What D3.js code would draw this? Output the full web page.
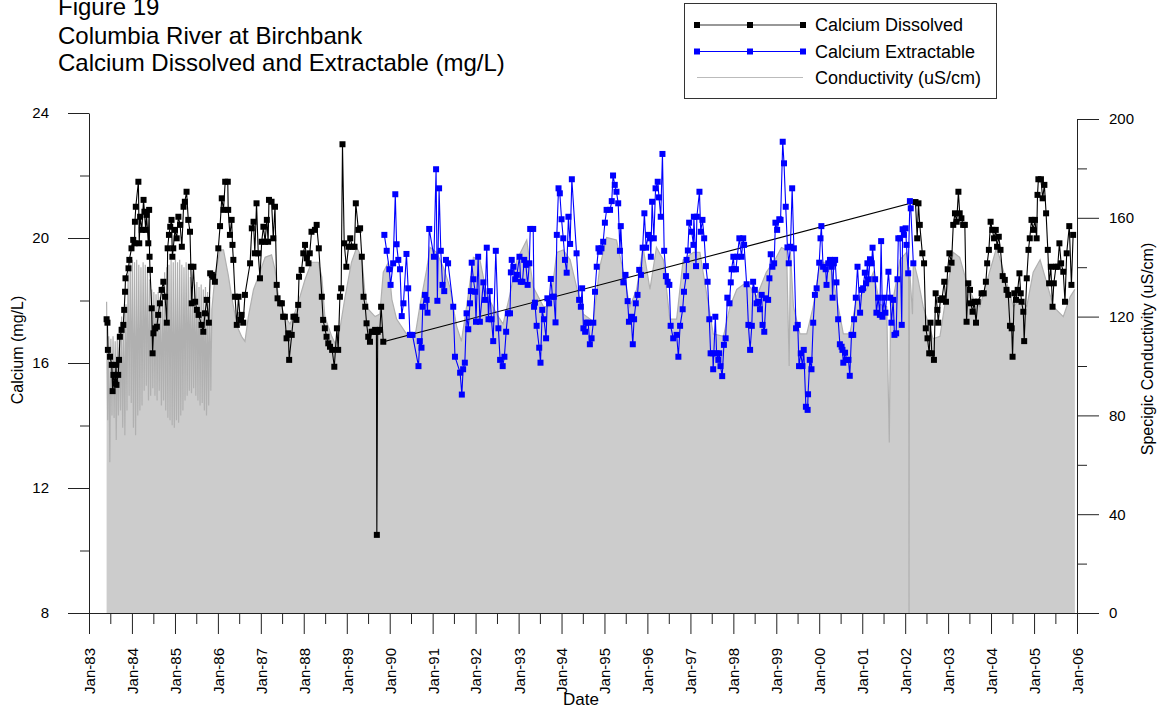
<!DOCTYPE html>
<html><head><meta charset="utf-8">
<script src="https://cdn.jsdelivr.net/npm/d3@7/dist/d3.min.js"></script>
<style>body{margin:0;background:#fff;} svg{display:block;font-family:Arial,"Liberation Sans",Helvetica,sans-serif;}</style>
</head><body><svg id="c" width="1159" height="710"></svg>
<script>
// ---------- DATA ----------
const titleLines = ["Figure 19", "Columbia River at Birchbank", "Calcium Dissolved and Extractable (mg/L)"];
const seriesNames = ["Calcium Dissolved", "Calcium Extractable", "Conductivity (uS/cm)"];
const leftTicks = [8, 12, 16, 20, 24];
const leftMinor = [10, 14, 18, 22];
const rightTicks = [0, 40, 80, 120, 160, 200];
const rightMinor = [20, 60, 100, 140, 180];

// Calcium Dissolved (mg/L): [decimal year, value]
const dissolved = [
[1983.41,17.40],[1983.43,17.29],[1983.44,16.42],[1983.49,16.20],[1983.53,15.94],[1983.55,15.10],[1983.57,15.62],[1983.61,15.35],[1983.63,15.94],[1983.64,15.30],[1983.68,15.62],[1983.70,16.10],[1983.72,16.84],[1983.76,17.06],[1983.80,17.22],[1983.82,17.70],[1983.84,18.28],[1983.85,18.71],[1983.92,19.03],[1983.94,19.30],[1983.99,19.67],[1984.03,19.94],[1984.06,19.83],[1984.07,20.52],[1984.09,21.00],[1984.15,21.80],[1984.17,19.83],[1984.19,20.68],[1984.23,20.26],[1984.27,21.22],[1984.29,20.84],[1984.32,20.26],[1984.34,20.74],[1984.38,19.83],[1984.40,20.90],[1984.41,19.40],[1984.42,18.98],[1984.46,17.75],[1984.48,16.31],[1984.50,16.95],[1984.54,17.11],[1984.58,17.16],[1984.61,17.54],[1984.65,17.91],[1984.69,18.34],[1984.73,18.60],[1984.77,18.12],[1984.81,17.29],[1984.83,19.67],[1984.86,20.10],[1984.89,20.36],[1984.92,20.58],[1984.94,19.40],[1984.96,19.67],[1985.00,20.26],[1985.04,19.99],[1985.08,20.68],[1985.12,20.42],[1985.16,19.72],[1985.20,21.00],[1985.23,21.16],[1985.27,21.48],[1985.31,20.58],[1985.35,20.20],[1985.37,19.08],[1985.39,17.91],[1985.43,19.08],[1985.47,17.96],[1985.51,17.70],[1985.55,17.54],[1985.62,17.22],[1985.66,17.00],[1985.70,17.59],[1985.74,18.02],[1985.79,17.29],[1985.82,18.87],[1985.86,18.82],[1985.89,18.76],[1985.93,18.60],[1986.01,19.67],[1986.05,20.38],[1986.09,21.27],[1986.13,20.90],[1986.17,21.80],[1986.23,21.80],[1986.24,20.90],[1986.28,20.10],[1986.32,20.58],[1986.34,19.78],[1986.36,19.30],[1986.40,18.12],[1986.44,17.22],[1986.48,18.12],[1986.52,17.38],[1986.55,17.54],[1986.59,17.29],[1986.63,18.18],[1986.75,19.19],[1986.79,20.31],[1986.83,20.52],[1986.86,19.51],[1986.90,21.11],[1986.94,19.51],[1986.98,18.71],[1987.02,19.88],[1987.06,20.36],[1987.10,19.88],[1987.14,20.58],[1987.17,19.88],[1987.19,21.22],[1987.25,21.16],[1987.29,19.99],[1987.33,21.00],[1987.37,18.50],[1987.39,18.07],[1987.45,17.91],[1987.49,17.91],[1987.52,17.48],[1987.56,17.48],[1987.60,16.79],[1987.64,16.95],[1987.66,16.10],[1987.72,16.90],[1987.76,17.48],[1987.80,17.48],[1987.83,17.38],[1987.87,17.86],[1987.89,18.76],[1987.95,18.98],[1987.99,19.51],[1988.03,19.78],[1988.07,19.35],[1988.11,19.19],[1988.14,19.51],[1988.18,20.20],[1988.26,20.26],[1988.30,20.42],[1988.35,19.67],[1988.42,18.12],[1988.45,17.38],[1988.49,17.11],[1988.53,16.84],[1988.57,16.63],[1988.61,16.52],[1988.66,16.42],[1988.71,15.88],[1988.77,17.11],[1988.80,16.42],[1988.84,18.12],[1988.87,18.39],[1988.90,23.00],[1988.94,19.83],[1988.99,19.08],[1989.04,19.72],[1989.08,19.99],[1989.13,19.72],[1989.18,19.72],[1989.21,21.11],[1989.27,20.26],[1989.31,20.31],[1989.35,19.40],[1989.39,18.12],[1989.43,17.80],[1989.46,17.27],[1989.50,16.84],[1989.54,16.68],[1989.58,17.00],[1989.62,17.00],[1989.66,17.06],[1989.69,17.00],[1989.70,10.50],[1989.72,17.00],[1989.77,17.06],[1989.80,17.80],[1989.85,16.68],
[2002.24,21.15],[2002.28,19.99],[2002.31,21.11],[2002.34,20.42],[2002.40,19.51],[2002.44,19.19],[2002.48,17.11],[2002.52,16.79],[2002.56,16.31],[2002.59,17.29],[2002.62,16.31],[2002.67,16.10],[2002.71,18.23],[2002.75,17.70],[2002.77,17.29],[2002.82,18.02],[2002.86,18.07],[2002.91,18.60],[2002.95,17.96],[2002.99,19.00],[2003.03,19.51],[2003.08,19.21],[2003.12,20.42],[2003.16,20.79],[2003.20,20.52],[2003.24,21.48],[2003.27,20.79],[2003.31,20.63],[2003.35,20.42],[2003.39,20.42],[2003.43,17.32],[2003.47,18.55],[2003.51,18.34],[2003.53,17.91],[2003.57,17.64],[2003.61,17.96],[2003.65,17.29],[2003.69,17.96],[2003.78,18.23],[2003.83,18.23],[2003.88,18.60],[2003.91,19.19],[2003.95,19.62],[2003.99,20.52],[2004.03,20.26],[2004.07,19.99],[2004.11,20.26],[2004.14,19.72],[2004.18,20.04],[2004.22,19.62],[2004.27,18.78],[2004.32,18.66],[2004.36,18.34],[2004.40,18.18],[2004.44,17.19],[2004.48,17.11],[2004.50,16.20],[2004.54,18.23],[2004.58,18.02],[2004.62,18.34],[2004.66,18.87],[2004.69,18.23],[2004.71,17.96],[2004.75,17.64],[2004.77,16.70],[2004.83,18.71],[2004.87,19.62],[2004.90,19.99],[2004.94,20.58],[2004.98,20.26],[2005.02,20.58],[2005.06,19.99],[2005.08,21.38],[2005.10,21.88],[2005.16,21.88],[2005.20,21.27],[2005.24,21.70],[2005.28,20.79],[2005.32,19.62],[2005.35,18.55],[2005.39,19.08],[2005.43,17.80],[2005.46,18.55],[2005.51,19.08],[2005.55,19.08],[2005.59,19.83],[2005.63,19.19],[2005.68,18.92],[2005.72,17.96],[2005.76,19.51],[2005.82,20.38],[2005.87,18.50],[2005.91,20.10]
];

// Calcium Extractable (mg/L): [decimal year, value]
const extractable = [
[1989.875,20.10],[1989.93,19.59],[1989.99,19.00],[1990.02,18.50],[1990.08,19.19],[1990.13,21.40],[1990.16,19.80],[1990.20,19.30],[1990.24,19.00],[1990.28,17.50],[1990.32,17.91],[1990.39,19.49],[1990.43,18.39],[1990.47,16.90],[1990.53,16.90],[1990.67,15.90],[1990.70,16.70],[1990.74,16.49],[1990.77,17.80],[1990.82,18.18],[1990.86,18.02],[1990.88,17.61],[1990.92,20.29],[1991.03,19.40],[1991.08,22.20],[1991.11,17.99],[1991.15,21.59],[1991.19,19.59],[1991.23,18.50],[1991.27,18.30],[1991.31,19.30],[1991.36,19.19],[1991.48,17.80],[1991.52,16.20],[1991.64,15.69],[1991.68,14.99],[1991.71,15.80],[1991.75,16.01],[1991.79,17.59],[1991.83,17.08],[1991.87,17.91],[1991.89,18.30],[1991.91,19.21],[1991.95,18.68],[1991.99,18.28],[1992.01,17.32],[1992.06,19.40],[1992.10,17.32],[1992.18,18.58],[1992.22,18.02],[1992.26,19.69],[1992.30,17.40],[1992.33,18.30],[1992.37,17.40],[1992.41,16.70],[1992.47,19.59],[1992.53,17.11],[1992.57,16.10],[1992.63,15.90],[1992.67,16.20],[1992.71,17.00],[1992.75,17.59],[1992.80,17.59],[1992.82,18.90],[1992.84,19.30],[1992.88,19.08],[1992.92,18.68],[1992.96,18.82],[1993.02,19.40],[1993.05,18.60],[1993.09,18.60],[1993.13,19.30],[1993.17,19.14],[1993.21,18.50],[1993.25,19.19],[1993.27,20.29],[1993.34,20.29],[1993.36,17.80],[1993.38,17.93],[1993.42,17.19],[1993.48,16.49],[1993.51,16.01],[1993.55,17.70],[1993.59,17.40],[1993.64,16.79],[1993.67,18.07],[1993.71,17.91],[1993.75,18.69],[1993.79,18.12],[1993.82,18.12],[1993.86,17.30],[1993.89,20.10],[1993.93,21.59],[1993.96,21.43],[1994.00,20.60],[1994.04,19.99],[1994.08,19.30],[1994.12,18.89],[1994.16,20.68],[1994.20,19.81],[1994.24,21.88],[1994.35,19.51],[1994.41,18.02],[1994.45,17.80],[1994.48,18.39],[1994.51,17.11],[1994.55,17.00],[1994.58,17.29],[1994.62,17.29],[1994.66,16.60],[1994.70,16.79],[1994.74,17.29],[1994.78,18.28],[1994.82,19.08],[1994.86,19.67],[1994.89,19.56],[1994.93,19.67],[1994.97,19.88],[1995.01,20.49],[1995.05,20.90],[1995.13,20.90],[1995.17,21.18],[1995.20,22.00],[1995.24,21.70],[1995.28,21.48],[1995.32,21.11],[1995.36,19.59],[1995.38,20.38],[1995.44,18.58],[1995.49,18.82],[1995.54,17.98],[1995.57,17.32],[1995.62,17.48],[1995.66,16.60],[1995.69,17.40],[1995.73,17.91],[1995.77,18.18],[1995.81,18.98],[1995.85,18.82],[1995.89,19.69],[1995.93,20.79],[1995.97,19.69],[1996.02,20.10],[1996.06,19.99],[1996.08,19.40],[1996.11,21.16],[1996.15,19.99],[1996.19,21.59],[1996.24,21.80],[1996.27,21.30],[1996.31,20.68],[1996.35,22.69],[1996.39,19.59],[1996.43,18.78],[1996.47,18.60],[1996.51,18.50],[1996.54,17.19],[1996.60,16.79],[1996.68,16.90],[1996.72,16.20],[1996.76,17.19],[1996.82,17.72],[1996.85,18.28],[1996.90,18.78],[1996.91,19.30],[1996.94,19.60],[1996.97,20.49],[1997.03,20.20],[1997.07,19.78],[1997.08,20.68],[1997.13,19.10],[1997.15,20.68],[1997.21,21.48],[1997.24,20.20],[1997.28,20.58],[1997.32,19.99],[1997.36,19.10],[1997.40,18.60],[1997.44,17.40],[1997.47,16.31],[1997.52,16.31],[1997.53,15.80],[1997.58,17.48],[1997.61,16.31],[1997.65,16.10],[1997.67,16.31],[1997.70,15.90],[1997.74,15.58],[1997.78,16.58],[1997.82,16.79],[1997.86,18.09],[1997.91,17.91],[1997.94,18.58],[1997.96,19.00],[1998.00,19.40],[1998.02,19.00],[1998.06,19.00],[1998.09,19.40],[1998.14,19.99],[1998.19,19.40],[1998.23,19.99],[1998.25,19.78],[1998.31,18.52],[1998.35,17.22],[1998.39,16.42],[1998.43,17.19],[1998.46,18.60],[1998.50,18.34],[1998.54,17.91],[1998.58,17.96],[1998.62,17.72],[1998.66,18.18],[1998.68,17.22],[1998.72,17.00],[1998.76,18.07],[1998.81,18.02],[1998.84,18.71],[1998.87,19.48],[1998.91,19.08],[1998.95,19.19],[1998.98,20.49],[1999.02,20.26],[1999.07,20.60],[1999.10,20.58],[1999.15,23.08],[1999.18,22.39],[1999.22,21.00],[1999.26,19.70],[1999.29,19.19],[1999.33,19.72],[1999.37,21.59],[1999.41,19.67],[1999.46,17.11],[1999.50,17.22],[1999.53,15.90],[1999.57,16.31],[1999.61,15.90],[1999.64,16.42],[1999.69,14.60],[1999.73,14.50],[1999.74,15.00],[1999.78,16.10],[1999.82,15.80],[1999.86,17.29],[1999.90,18.18],[1999.94,18.39],[2000.00,19.21],[2000.03,19.99],[2000.05,20.38],[2000.09,19.08],[2000.15,19.00],[2000.17,18.50],[2000.21,19.19],[2000.25,19.30],[2000.29,19.08],[2000.31,18.09],[2000.34,19.19],[2000.37,19.30],[2000.40,18.58],[2000.44,17.40],[2000.48,16.60],[2000.52,16.52],[2000.54,16.42],[2000.56,16.01],[2000.60,16.33],[2000.64,16.10],[2000.68,16.10],[2000.71,15.59],[2000.75,16.90],[2000.79,16.90],[2000.81,17.40],[2000.85,18.09],[2000.89,19.08],[2000.95,17.61],[2000.99,18.34],[2001.02,18.39],[2001.06,18.89],[2001.09,18.55],[2001.12,19.19],[2001.15,18.68],[2001.18,19.32],[2001.22,19.19],[2001.24,19.69],[2001.30,18.68],[2001.33,17.61],[2001.37,18.09],[2001.41,17.54],[2001.44,19.90],[2001.47,17.48],[2001.51,18.09],[2001.54,17.61],[2001.61,18.92],[2001.65,18.09],[2001.68,17.29],[2001.72,18.02],[2001.75,16.90],[2001.79,16.95],[2001.82,18.68],[2001.84,19.99],[2001.88,19.99],[2001.92,17.22],[2001.94,20.28],[2001.97,20.10],[2002.01,20.31],[2002.03,19.78],[2002.07,18.87],[2002.11,21.18],[2002.13,20.95],[2002.19,19.19]
];

// Conductivity (uS/cm), dense early record 1983.41 - 1985.86 (sampled every 0.025 yr)
const condEarlyStart = 1983.41, condEarlyStep = 0.025;
const condEarly = [126,78,112,61,111,80,112,79,110,70,113,80,116,82,120,75,122,72,125,82,138,88,143,85,143,75,142,72,143,80,141,82,140,84,142,90,141,92,140,86,135,88,131,91,130,88,129,86,130,90,128,84,131,86,138,82,140,79,141,78,143,76,142,75,143,78,142,77,143,80,141,82,140,86,142,88,139,90,136,89,134,91,133,88,134,86,132,84,133,85,131,82,132,80,130,84,128,90,123];
// Conductivity (uS/cm) later record: [decimal year, value]
const condLate = [
[1985.93,136],[1986.05,147],[1986.13,147],[1986.24,137],[1986.32,128],[1986.45,116],[1986.55,112],[1986.63,110],[1986.71,120],[1986.83,131],[1986.94,136],[1987.10,144],[1987.25,145],[1987.33,139],[1987.41,128],[1987.56,120],[1987.68,117],[1987.80,122],[1987.91,128],[1988.03,135],[1988.18,142],[1988.34,142],[1988.42,136],[1988.49,120],[1988.65,112],[1988.73,109],[1988.84,115],[1988.96,128],[1989.11,142],[1989.23,148],[1989.35,144],[1989.43,128],[1989.50,123],[1989.66,120],[1989.77,121],[1989.85,138],[1989.97,142],[1990.05,127],[1990.16,119],[1990.39,113],[1990.59,112],[1990.70,124],[1990.86,139],[1990.94,148],[1991.09,146],[1991.25,140],[1991.40,132],[1991.56,116],[1991.67,110],[1991.79,124],[1991.95,144],[1992.10,143],[1992.26,129],[1992.49,121],[1992.64,117],[1992.80,129],[1992.96,143],[1993.19,151],[1993.34,132],[1993.58,124],[1993.73,124],[1993.89,146],[1994.04,147],[1994.20,143],[1994.35,132],[1994.51,121],[1994.74,118],[1994.89,140],[1995.05,152],[1995.28,151],[1995.44,138],[1995.59,124],[1995.75,131],[1995.90,148],[1996.06,131],[1996.21,148],[1996.37,143],[1996.52,119],[1996.68,119],[1996.83,143],[1997.07,146],[1997.22,146],[1997.38,129],[1997.53,113],[1997.77,112],[1997.92,124],[1998.08,131],[1998.31,134],[1998.54,128],[1998.77,138],[1998.97,143],[1999.12,148],[1999.24,147],[1999.30,100],[1999.33,146],[1999.40,124],[1999.55,113],[1999.71,113],[1999.86,124],[2000.02,142],[2000.25,142],[2000.40,128],[2000.56,113],[2000.71,113],[2000.87,127],[2001.10,131],[2001.26,138],[2001.41,125],[2001.57,124],[2001.63,69],[2001.66,124],[2001.72,127],[2001.88,143],[2002.03,146],[2002.08,140],[2002.09,0],[2002.10,140],[2002.17,121],[2002.19,143],[2002.30,135],[2002.42,124],[2002.65,111],[2002.81,112],[2002.96,129],[2003.12,146],[2003.27,144],[2003.43,134],[2003.59,127],[2003.74,124],[2003.90,134],[2004.13,148],[2004.28,139],[2004.52,124],[2004.67,127],[2004.83,124],[2004.98,138],[2005.14,143],[2005.29,134],[2005.45,124],[2005.68,120],[2005.84,128],[2005.95,131]
];

// ---------- CHART ----------
const svg = d3.select("#c");
const toDate = y => { const yr = Math.floor(y); const s = new Date(yr,0,1), e = new Date(yr+1,0,1); return new Date(+s + (y-yr)*(e-s)); };
const x = d3.scaleTime().domain([new Date(1983,0,1), new Date(2006,0,1)]).range([89,1077]);
const yL = d3.scaleLinear().domain([8,24]).range([613,113]);
const yR = d3.scaleLinear().domain([0,200]).range([613,119]);

const cond = condEarly.map((v,i)=>[condEarlyStart + i*condEarlyStep, v]).concat(condLate);

// conductivity area
svg.append("path").datum(cond)
  .attr("d", d3.area().x(d=>x(toDate(d[0]))).y0(yR(0)).y1(d=>yR(d[1])))
  .attr("fill","#cccccc");
svg.append("path").datum(cond)
  .attr("d", d3.line().x(d=>x(toDate(d[0]))).y(d=>yR(d[1])))
  .attr("fill","none").attr("stroke","#b0b0b0").attr("stroke-width",1.2);

// series
function drawSeries(data, color){
  svg.append("path").datum(data)
    .attr("d", d3.line().x(d=>x(toDate(d[0]))).y(d=>yL(d[1])))
    .attr("fill","none").attr("stroke",color).attr("stroke-width",1.1);
  svg.append("g").selectAll("rect").data(data).join("rect")
    .attr("x", d=>x(toDate(d[0]))-3).attr("y", d=>yL(d[1])-3)
    .attr("width",6).attr("height",6).attr("fill",color);
}
drawSeries(dissolved, "#000000");
drawSeries(extractable, "#0000ff");

// axes
const axCol = "#222";
function styleAxis(g){ g.selectAll("path,line").attr("stroke",axCol); g.selectAll("text").attr("fill","#000").attr("font-family","Arial,'Liberation Sans',sans-serif"); }
const gl = svg.append("g").attr("transform","translate(89,0)");
gl.call(d3.axisLeft(yL).tickValues(leftTicks).tickSize(21).tickSizeOuter(0).tickPadding(19).tickFormat(d3.format("d")));
gl.append("g").call(d3.axisLeft(yL).tickValues(leftMinor).tickSize(9).tickSizeOuter(0).tickFormat("")).select(".domain").remove();
gl.selectAll("text").attr("font-size",15);
styleAxis(gl);

const gr = svg.append("g").attr("transform","translate(1077,0)");
gr.call(d3.axisRight(yR).tickValues(rightTicks).tickSize(22).tickSizeOuter(0).tickPadding(10).tickFormat(d3.format("d")));
gr.append("g").call(d3.axisRight(yR).tickValues(rightMinor).tickSize(10).tickSizeOuter(0).tickFormat("")).select(".domain").remove();
gr.selectAll("text").attr("font-size",15);
styleAxis(gr);

const gx = svg.append("g").attr("transform","translate(0,613)");
gx.call(d3.axisBottom(x).ticks(d3.timeYear.every(1)).tickSize(21).tickSizeOuter(0).tickFormat(d3.timeFormat("%b-%y")));
gx.selectAll("text").attr("font-size",15).attr("transform","rotate(-90)")
  .attr("text-anchor","end").attr("x",-35).attr("y",0).attr("dy","0.36em");
const julys = d3.range(1983,2006).map(yr=>new Date(yr,6,1));
gx.append("g").call(d3.axisBottom(x).tickValues(julys).tickSize(11).tickSizeOuter(0).tickFormat("")).select(".domain").remove();
styleAxis(gx);

// axis titles
svg.append("text").attr("transform","translate(23,350) rotate(-90)").attr("text-anchor","middle")
  .attr("font-size",16).text("Calcium (mg/L)");
svg.append("text").attr("transform","translate(1153,349) rotate(-90)").attr("text-anchor","middle")
  .attr("font-size",16).text("Specigic Conductivity (uS/cm)");
svg.append("text").attr("x",581).attr("y",705).attr("text-anchor","middle").attr("font-size",17).text("Date");

// title
const titleY = [15, 44, 71];
svg.append("g").selectAll("text").data(titleLines).join("text")
  .attr("x",58).attr("y",(d,i)=>titleY[i]).attr("font-size",24).text(d=>d);

// legend
const lg = svg.append("g");
lg.append("rect").attr("x",684.5).attr("y",3.5).attr("width",312).attr("height",95)
  .attr("fill","#fff").attr("stroke","#333").attr("stroke-width",1);
const legY = [25, 51.5, 77.5];
const legCol = ["#000000","#0000ff","#bbbbbb"];
seriesNames.forEach((name,i)=>{
  lg.append("line").attr("x1",697).attr("x2",803).attr("y1",legY[i]).attr("y2",legY[i])
    .attr("stroke", i===0 ? "#333" : legCol[i]).attr("stroke-width",1.1);
  if(i<2){
    [697,750,803].forEach(px=>lg.append("rect").attr("x",px-3).attr("y",legY[i]-3).attr("width",6).attr("height",6).attr("fill",legCol[i]));
  }
  lg.append("text").attr("x",815).attr("y",legY[i]+6).attr("font-size",18).text(name);
});
</script></body></html>
